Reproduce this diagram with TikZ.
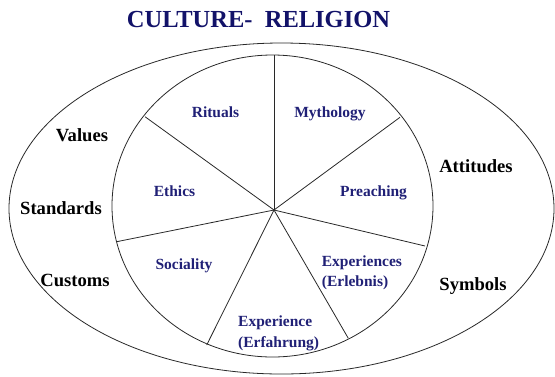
\documentclass[tikz,border=0pt]{standalone}
\usepackage{fontspec}
\setmainfont{Liberation Serif}
\definecolor{titlecol}{RGB}{18,18,105}
\definecolor{innercol}{RGB}{32,32,118}
\definecolor{linecol}{RGB}{40,40,40}
\begin{document}
\begin{tikzpicture}[x=1pt,y=-1pt,
  outline/.style={draw=linecol,line width=0.8pt},
  spoke/.style={draw=linecol,line width=0.8pt},
  titletext/.style={inner sep=0pt,text=titlecol,font=\fontsize{24.5}{28}\selectfont\bfseries},
  outertext/.style={inner sep=0pt,text=black,font=\fontsize{18.6}{22}\selectfont\bfseries},
  innertext/.style={inner sep=0pt,text=innercol,font=\fontsize{15.5}{20}\selectfont\bfseries}]
\useasboundingbox (0,0) rectangle (555,376);
% outer ellipse and inner circle
\draw[outline] (281.5,208.5) ellipse [x radius=272.5pt, y radius=165.5pt];
\draw[outline] (272.5,206) ellipse [x radius=160.5pt, y radius=151pt];
% spokes
\coordinate (c) at (274,210);
\coordinate (s1) at (274,55);
\coordinate (s2) at (400,117.3);
\coordinate (s3) at (425,246);
\coordinate (s4) at (348.3,338.3);
\coordinate (s5) at (206.7,345);
\coordinate (s6) at (116.7,241.7);
\coordinate (s7) at (145,116.7);
\foreach \s in {s1,s2,s3,s4,s5,s6,s7} \draw[spoke] (c) -- (\s);
% title
\node[titletext,anchor=base] (title) at (258.5,27) {CULTURE-\ \ RELIGION};
% outer labels
\node[outertext,anchor=base] (values) at (82,141.7) {Values};
\node[outertext,anchor=base] (standards) at (61,214) {Standards};
\node[outertext,anchor=base] (customs) at (75,286) {Customs};
\node[outertext,anchor=base] (attitudes) at (476,172) {Attitudes};
\node[outertext,anchor=base] (symbols) at (473,290) {Symbols};
% inner labels
\node[innertext,anchor=base] (rituals) at (215.5,117) {Rituals};
\node[innertext,anchor=base] (mythology) at (330,117) {Mythology};
\node[innertext,anchor=base] (ethics) at (174.5,196) {Ethics};
\node[innertext,anchor=base] (preaching) at (373.5,196) {Preaching};
\node[innertext,anchor=base] (sociality) at (184,269) {Sociality};
\node[innertext,anchor=base west] (exp1a) at (321.7,266) {Experiences};
\node[innertext,anchor=base west] (exp1b) at (321.7,286) {(Erlebnis)};
\node[innertext,anchor=base west] (exp2a) at (238,326.5) {Experience};
\node[innertext,anchor=base west] (exp2b) at (238,347) {(Erfahrung)};
\end{tikzpicture}
\end{document}
